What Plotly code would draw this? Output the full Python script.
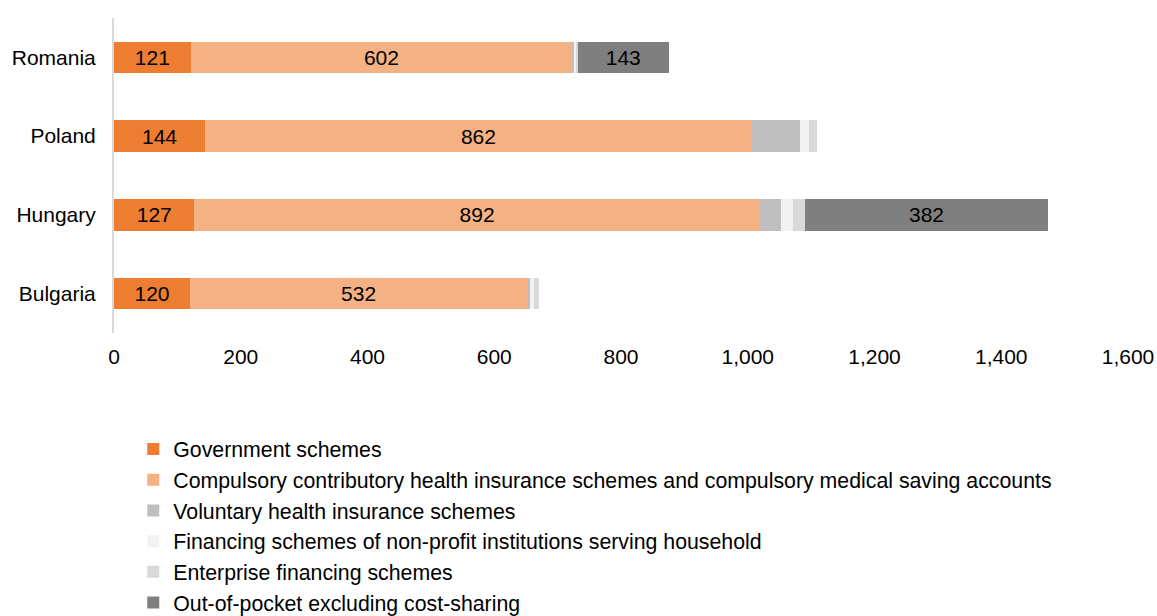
import plotly.graph_objects as go

countries = ["Romania", "Poland", "Hungary", "Bulgaria"]

government = [121, 144, 127, 120]
compulsory = [602, 862, 892, 532]
voluntary = [4, 77, 33, 5]
npish = [3, 13, 20, 6]
enterprise = [2, 14, 19, 8]
out_of_pocket = [143, 0, 382, 0]

series = [
    ("Government schemes", government, "#ED7D31", True),
    ("Compulsory contributory health insurance schemes and compulsory medical saving accounts",
     compulsory, "#F4B183", True),
    ("Voluntary health insurance schemes", voluntary, "#BFBFBF", False),
    ("Financing schemes of non-profit institutions serving household", npish, "#F2F2F2", False),
    ("Enterprise financing schemes", enterprise, "#D9D9D9", False),
    ("Out-of-pocket excluding cost-sharing", out_of_pocket, "#7F7F7F", True),
]

font = "Liberation Sans, Arial, sans-serif"
fsize = 21

fig = go.Figure()
for i, (name, values, color, labelled) in enumerate(series):
    labels = [str(v) if (labelled and v > 0) else "" for v in values]
    fig.add_trace(go.Bar(
        y=countries,
        x=values,
        name=name,
        orientation="h",
        marker=dict(color=color, line=dict(width=0)),
        text=labels,
        textposition="inside",
        insidetextanchor="middle",
        textangle=0,
        constraintext="none",
        textfont=dict(color="#000000", size=fsize, family=font),
        legendgroup=f"g{i}",
        hoverinfo="x+name",
    ))

fig.update_layout(
    barmode="stack",
    bargap=0.6,
    width=1157,
    height=616,
    margin=dict(l=114, r=29, t=18, b=283, autoexpand=False),
    plot_bgcolor="white",
    paper_bgcolor="white",
    font=dict(family=font, size=fsize, color="#000000"),
    showlegend=True,
    legend=dict(
        orientation="v",
        x=0.019,
        xanchor="left",
        y=-0.304,
        yanchor="top",
        traceorder="normal",
        tracegroupgap=7.7,
        font=dict(size=21.3, family=font, color="#000000"),
        itemwidth=30,
    ),
    xaxis=dict(
        range=[0, 1600],
        dtick=200,
        tickformat=",",
        showgrid=False,
        zeroline=False,
        showline=False,
        ticks="",
        automargin=False,
        ticklabelstandoff=9,
        ticklabeloverflow="allow",
        tickfont=dict(size=fsize),
    ),
    yaxis=dict(
        categoryorder="array",
        categoryarray=countries[::-1],
        showgrid=False,
        zeroline=False,
        showline=True,
        linecolor="#D9D9D9",
        linewidth=2,
        ticks="",
        automargin=False,
        ticklabelstandoff=12,
        tickfont=dict(size=fsize),
    ),
)

# page body has a default 8px margin; drop it so the figure sits at the window origin
fig.write_html(
    "out.html",
    config={"displayModeBar": False},
    post_script="document.body.style.margin='0';",
)
